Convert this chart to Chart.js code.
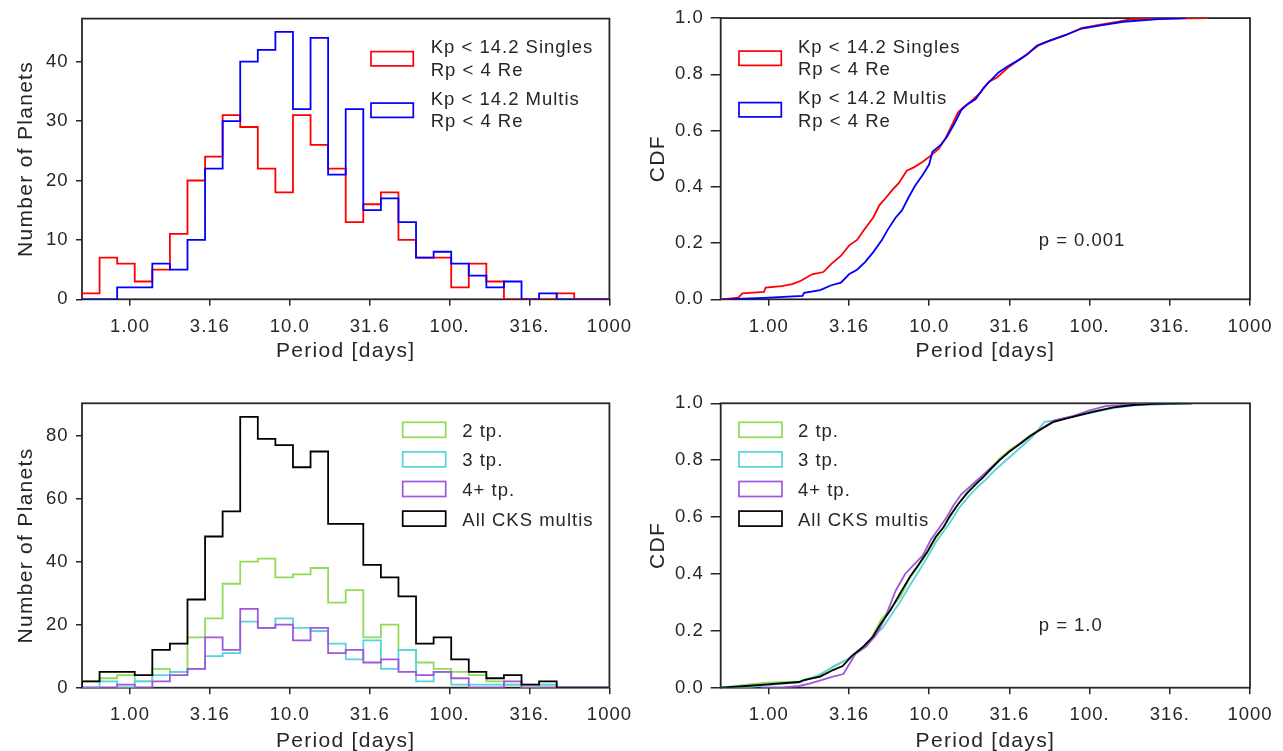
<!DOCTYPE html>
<html>
<head>
<meta charset="utf-8">
<script src="https://cdn.jsdelivr.net/npm/chart.js@4.4.1/dist/chart.umd.min.js"></script>
<style>
  html, body { margin: 0; padding: 0; background: #fff; }
  body { width: 1283px; height: 751px; position: relative; overflow: hidden; }
  canvas { position: absolute; }
</style>
</head>
<body>
<canvas id="histTop" style="left:0px;top:0px" width="640" height="375"></canvas>
<canvas id="cdfTop" style="left:640px;top:0px" width="643" height="375"></canvas>
<canvas id="histBottom" style="left:0px;top:375px" width="640" height="376"></canvas>
<canvas id="cdfBottom" style="left:640px;top:375px" width="643" height="376"></canvas>
<script>
// period axis is log10(P); 30 bins from -0.3 to 3.0
const binEdges = [-0.30, -0.19, -0.08, 0.03, 0.14, 0.25, 0.36, 0.47, 0.58, 0.69, 0.80,
  0.91, 1.02, 1.13, 1.24, 1.35, 1.46, 1.57, 1.68, 1.79, 1.90,
  2.01, 2.12, 2.23, 2.34, 2.45, 2.56, 2.67, 2.78, 2.89, 3.00];

// top row: Kp < 14.2, Rp < 4 Re
const singlesCounts = [1, 7, 6, 3, 5, 11, 20, 24, 31, 29, 22, 18, 31, 26, 22, 13, 16, 18, 10, 7, 7, 2, 6, 3, 0, 0, 0, 1, 0, 0];
const multisCounts  = [0, 0, 2, 2, 6, 5, 10, 22, 30, 40, 42, 45, 32, 44, 21, 32, 15, 17, 13, 7, 8, 6, 4, 2, 3, 0, 1, 0, 0, 0];

// bottom row: CKS multis by number of transiting planets
const twoCounts   = [2, 3, 4, 2, 6, 5, 16, 22, 33, 40, 41, 35, 36, 38, 27, 31, 16, 20, 12, 8, 6, 5, 4, 2, 1, 0, 1, 0, 0, 0];
const threeCounts = [0, 2, 0, 2, 4, 5, 6, 10, 11, 21, 19, 22, 19, 18, 14, 9, 15, 6, 12, 2, 5, 1, 1, 1, 1, 1, 1, 0, 0, 0];
const fourCounts  = [0, 0, 1, 0, 2, 4, 6, 16, 12, 25, 19, 20, 15, 19, 11, 12, 8, 9, 5, 4, 5, 3, 0, 0, 2, 0, 0, 0, 0, 0];
const allCounts   = [2, 5, 5, 4, 12, 14, 28, 48, 56, 86, 79, 77, 70, 75, 52, 52, 39, 35, 29, 14, 16, 9, 5, 3, 4, 1, 2, 0, 0, 0];

// CDF curves, [log10 P, fraction]
const singlesCdf = [[-0.29, 0], [-0.19, 0.006], [-0.165, 0.021], [-0.03, 0.026], [-0.02, 0.042], [0.08, 0.047],
  [0.145, 0.054], [0.20, 0.066], [0.27, 0.089], [0.34, 0.097], [0.39, 0.126], [0.45, 0.155], [0.50, 0.191],
  [0.55, 0.211], [0.59, 0.244], [0.65, 0.29], [0.69, 0.335], [0.73, 0.361], [0.77, 0.389], [0.81, 0.413],
  [0.86, 0.457], [0.91, 0.471], [0.96, 0.489], [1.01, 0.511], [1.06, 0.536], [1.10, 0.571], [1.14, 0.618],
  [1.18, 0.665], [1.21, 0.681], [1.265, 0.706], [1.32, 0.735], [1.37, 0.773], [1.42, 0.788], [1.49, 0.823],
  [1.56, 0.852], [1.62, 0.876], [1.685, 0.904], [1.75, 0.919], [1.85, 0.939], [1.95, 0.964], [2.05, 0.975],
  [2.18, 0.987], [2.26, 0.996], [2.74, 1.0]];
const multisCdf = [[-0.29, 0], [-0.03, 0.005], [0.21, 0.012], [0.22, 0.023], [0.32, 0.033], [0.39, 0.05],
  [0.45, 0.059], [0.50, 0.089], [0.55, 0.105], [0.60, 0.132], [0.65, 0.167], [0.705, 0.211], [0.74, 0.246],
  [0.79, 0.29], [0.83, 0.316], [0.87, 0.361], [0.91, 0.402], [0.96, 0.443], [1.00, 0.48], [1.02, 0.525],
  [1.07, 0.548], [1.11, 0.577], [1.16, 0.628], [1.20, 0.673], [1.24, 0.694], [1.29, 0.712], [1.34, 0.753],
  [1.39, 0.782], [1.43, 0.806], [1.49, 0.829], [1.57, 0.855], [1.61, 0.87], [1.67, 0.902], [1.75, 0.92],
  [1.85, 0.94], [1.95, 0.963], [2.08, 0.975], [2.21, 0.987], [2.43, 0.996], [2.60, 1.0]];

const twoCdf = [[-0.30, 0], [-0.12, 0.012], [-0.01, 0.018], [0.19, 0.022], [0.30, 0.042], [0.40, 0.072],
  [0.485, 0.098], [0.53, 0.115], [0.61, 0.145], [0.65, 0.186], [0.70, 0.239], [0.77, 0.286], [0.82, 0.32],
  [0.88, 0.385], [0.93, 0.425], [0.99, 0.475], [1.04, 0.525], [1.09, 0.565], [1.13, 0.60], [1.18, 0.645],
  [1.24, 0.69], [1.29, 0.72], [1.34, 0.75], [1.39, 0.778], [1.44, 0.806], [1.50, 0.835], [1.57, 0.862],
  [1.63, 0.888], [1.69, 0.908], [1.78, 0.935], [1.90, 0.955], [2.02, 0.972], [2.15, 0.986], [2.27, 0.994], [2.50, 1.0]];
const threeCdf = [[-0.30, 0], [-0.12, 0.002], [-0.01, 0.009], [0.19, 0.019], [0.32, 0.045], [0.40, 0.074],
  [0.485, 0.098], [0.53, 0.118], [0.61, 0.147], [0.65, 0.18], [0.71, 0.21], [0.77, 0.262], [0.82, 0.303],
  [0.88, 0.36], [0.93, 0.405], [0.99, 0.46], [1.04, 0.51], [1.09, 0.55], [1.14, 0.59], [1.19, 0.635],
  [1.25, 0.675], [1.30, 0.705], [1.35, 0.73], [1.40, 0.76], [1.46, 0.79], [1.52, 0.82], [1.58, 0.85],
  [1.64, 0.88], [1.72, 0.935], [1.78, 0.94], [1.90, 0.952], [2.02, 0.968], [2.15, 0.984], [2.30, 0.994], [2.64, 1.0]];
const fourCdf = [[-0.05, 0], [0.09, 0.001], [0.19, 0.006], [0.26, 0.015], [0.40, 0.039], [0.465, 0.048],
  [0.505, 0.086], [0.54, 0.118], [0.61, 0.147], [0.67, 0.186], [0.72, 0.239], [0.79, 0.34], [0.85, 0.40],
  [0.90, 0.43], [0.96, 0.465], [1.01, 0.52], [1.06, 0.56], [1.11, 0.60], [1.15, 0.64], [1.20, 0.68],
  [1.24, 0.70], [1.29, 0.725], [1.34, 0.75], [1.39, 0.775], [1.44, 0.80], [1.50, 0.83], [1.57, 0.86],
  [1.63, 0.885], [1.69, 0.908], [1.78, 0.94], [1.90, 0.956], [2.00, 0.975], [2.10, 0.99], [2.25, 0.996], [2.45, 1.0]];
const allCdf = [[-0.30, 0], [-0.14, 0.006], [-0.01, 0.012], [0.19, 0.02], [0.22, 0.027], [0.32, 0.039],
  [0.40, 0.062], [0.46, 0.076], [0.52, 0.113], [0.59, 0.145], [0.65, 0.18], [0.70, 0.227], [0.76, 0.274],
  [0.82, 0.333], [0.88, 0.39], [0.93, 0.43], [0.99, 0.48], [1.04, 0.53], [1.09, 0.565], [1.13, 0.605],
  [1.18, 0.645], [1.235, 0.683], [1.29, 0.715], [1.34, 0.742], [1.39, 0.772], [1.44, 0.801], [1.50, 0.83],
  [1.57, 0.859], [1.63, 0.885], [1.69, 0.906], [1.775, 0.935], [1.90, 0.953], [2.02, 0.97], [2.15, 0.986],
  [2.27, 0.994], [2.40, 0.998], [2.64, 1.0]];

const xTickPos = [0, 0.5, 1, 1.5, 2, 2.5, 3];
const xTickLabels = ['1.00', '3.16', '10.0', '31.6', '100.', '316.', '1000'];
const yTicksTop = [0, 10, 20, 30, 40];
const yTicksBottom = [0, 20, 40, 60, 80];
const cdfTicks = [0, 0.2, 0.4, 0.6, 0.8, 1.0];
const cdfTickLabels = ['0.0', '0.2', '0.4', '0.6', '0.8', '1.0'];

const FONT = '"Liberation Sans", Arial, Helvetica, sans-serif';
const INK = '#262626';
const RED = '#ff0000', BLUE = '#0000ff';
const GREEN = '#91db57', CYAN = '#57d3db', PURPLE = '#a157db', BLACK = '#000000';

// histtype='step' outline
function stepPoints(edges, counts) {
  const pts = [{x: edges[0], y: 0}];
  counts.forEach((c, i) => pts.push({x: edges[i], y: c}));
  pts.push({x: edges[edges.length - 1], y: counts[counts.length - 1]});
  pts.push({x: edges[edges.length - 1], y: 0});
  return pts;
}
const toPoints = arr => arr.map(p => ({x: p[0], y: p[1]}));

const panelDecor = {
  id: 'panelDecor',
  beforeDraw(chart) {
    chart.ctx.letterSpacing = '1px';
  },
  beforeDatasetsDraw(chart) {
    const {ctx, chartArea: a} = chart;
    ctx.save();
    ctx.strokeStyle = INK;
    ctx.lineWidth = 1.8;
    ctx.strokeRect(a.left, a.top, a.right - a.left, a.bottom - a.top);
    ctx.restore();
  },
  afterDraw(chart, args, o) {
    const {ctx, chartArea: a} = chart;
    ctx.save();
    ctx.fillStyle = INK;
    ctx.textBaseline = 'alphabetic';

    // axis titles
    ctx.letterSpacing = '1.3px';
    ctx.font = '21px ' + FONT;
    ctx.textAlign = 'center';
    ctx.fillText('Period [days]', (a.left + a.right) / 2, a.bottom + o.xTitleDy);
    ctx.save();
    ctx.translate(a.left + o.yTitleDx, (a.top + a.bottom) / 2);
    ctx.rotate(-Math.PI / 2);
    ctx.fillText(o.yTitle, 0, 0);
    ctx.restore();

    // legend
    ctx.letterSpacing = '1px';
    const lg = o.legend;
    ctx.font = '18.5px ' + FONT;
    ctx.textAlign = 'left';
    lg.items.forEach((it, i) => {
      const base = a.top + lg.firstBaseline + i * lg.rowGap;
      ctx.fillStyle = '#ffffff';
      ctx.strokeStyle = it.color;
      ctx.lineWidth = 1.7;
      const by = base + lg.boxDy;
      ctx.fillRect(a.left + lg.boxX, by, lg.boxW, lg.boxH);
      ctx.strokeRect(a.left + lg.boxX, by, lg.boxW, lg.boxH);
      ctx.fillStyle = INK;
      it.lines.forEach((t, j) => ctx.fillText(t, a.left + lg.textX, base + j * lg.lineGap));
    });

    if (o.note) {
      ctx.fillText(o.note, a.left + 318, a.top + 228);
    }
    ctx.restore();
  }
};

function xScale(h) {
  return {
    type: 'linear', min: -0.3, max: 3,
    afterBuildTicks: s => { s.ticks = xTickPos.map(v => ({value: v})); },
    afterFit: s => { s.height = h; },
    ticks: {
      callback: (v, i) => xTickLabels[i],
      font: {family: FONT, size: 18.5}, color: INK, padding: 10,
      maxRotation: 0, autoSkip: false
    },
    grid: {drawOnChartArea: false, drawTicks: true, tickLength: 6.5, color: INK, lineWidth: 1.5},
    border: {display: false}
  };
}

function yScale(max, tickVals, labels, w, tickLen, pad) {
  return {
    type: 'linear', min: 0, max: max,
    afterBuildTicks: s => { s.ticks = tickVals.map(v => ({value: v})); },
    afterFit: s => { s.width = w; },
    ticks: {
      callback: (v, i) => labels ? labels[i] : String(v),
      font: {family: FONT, size: 18.5}, color: INK, padding: pad, autoSkip: false
    },
    grid: {drawOnChartArea: false, drawTicks: true, tickLength: tickLen, color: INK, lineWidth: 1.5},
    border: {display: false}
  };
}

function line(data, color, order, stepped) {
  return {
    data: data, borderColor: color, backgroundColor: color, borderWidth: 1.8,
    pointRadius: 0, fill: false, tension: 0, stepped: stepped, order: order
  };
}

function makeChart(id, datasets, pad, xs, ys, decor) {
  return new Chart(document.getElementById(id), {
    type: 'line',
    data: {datasets: datasets},
    options: {
      responsive: false,
      animation: false,
      layout: {padding: pad},
      plugins: {legend: {display: false}, tooltip: {enabled: false}, panelDecor: decor},
      scales: {x: xs, y: ys}
    },
    plugins: [panelDecor]
  });
}

const topLegendItems = [
  {color: RED, lines: ['Kp < 14.2 Singles', 'Rp < 4 Re']},
  {color: BLUE, lines: ['Kp < 14.2 Multis', 'Rp < 4 Re']}
];
const bottomLegendItems = [
  {color: GREEN, lines: ['2 tp.']},
  {color: CYAN, lines: ['3 tp.']},
  {color: PURPLE, lines: ['4+ tp.']},
  {color: BLACK, lines: ['All CKS multis']}
];

// top left: histograms
makeChart('histTop', [
  line(stepPoints(binEdges, singlesCounts), RED, 1, true),
  line(stepPoints(binEdges, multisCounts), BLUE, 0, true)
], {top: 14.7, left: 0, right: 26.7, bottom: 0},
  xScale(75.7), yScale(47.25, yTicksTop, null, 82, 6, 7.5),
  {yTitle: 'Number of Planets', yTitleDx: -49.7, xTitleDy: 57.4,
   legend: {items: topLegendItems, boxX: 289, boxW: 42.3, boxH: 14.3, boxDy: -1.6, textX: 348.7,
            firstBaseline: 34.6, rowGap: 51.5, lineGap: 22.4}});

// top right: CDFs
makeChart('cdfTop', [
  line(toPoints(singlesCdf), RED, 1, false),
  line(toPoints(multisCdf), BLUE, 0, false)
], {top: 14.7, left: 0, right: 33, bottom: 0},
  xScale(75.7), yScale(1, cdfTicks, cdfTickLabels, 80.7, 10, 7),
  {yTitle: 'CDF', yTitleDx: -57.1, xTitleDy: 57.4, note: 'p = 0.001',
   legend: {items: topLegendItems, boxX: 18.3, boxW: 42.3, boxH: 14.3, boxDy: -1.6, textX: 77.3,
            firstBaseline: 34.6, rowGap: 51.5, lineGap: 22.4}});

// bottom left: histograms by multiplicity
makeChart('histBottom', [
  line(stepPoints(binEdges, twoCounts), GREEN, 3, true),
  line(stepPoints(binEdges, threeCounts), CYAN, 2, true),
  line(stepPoints(binEdges, fourCounts), PURPLE, 1, true),
  line(stepPoints(binEdges, allCounts), BLACK, 0, true)
], {top: 28.3, left: 0, right: 26.7, bottom: 0},
  xScale(63.3), yScale(90.3, yTicksBottom, null, 82, 6, 7.5),
  {yTitle: 'Number of Planets', yTitleDx: -49.7, xTitleDy: 59,
   legend: {items: bottomLegendItems, boxX: 320.7, boxW: 43, boxH: 15, boxDy: -14.4, textX: 380.3,
            firstBaseline: 33.4, rowGap: 29.6, lineGap: 0}});

// bottom right: CDFs by multiplicity
makeChart('cdfBottom', [
  line(toPoints(twoCdf), GREEN, 3, false),
  line(toPoints(threeCdf), CYAN, 2, false),
  line(toPoints(fourCdf), PURPLE, 1, false),
  line(toPoints(allCdf), BLACK, 0, false)
], {top: 28.3, left: 0, right: 33, bottom: 0},
  xScale(63.3), yScale(1, cdfTicks, cdfTickLabels, 80.7, 10, 7),
  {yTitle: 'CDF', yTitleDx: -57.1, xTitleDy: 59, note: 'p = 1.0',
   legend: {items: bottomLegendItems, boxX: 18.3, boxW: 43, boxH: 15, boxDy: -14.4, textX: 77.3,
            firstBaseline: 33.4, rowGap: 29.6, lineGap: 0}});
</script>
</body>
</html>
